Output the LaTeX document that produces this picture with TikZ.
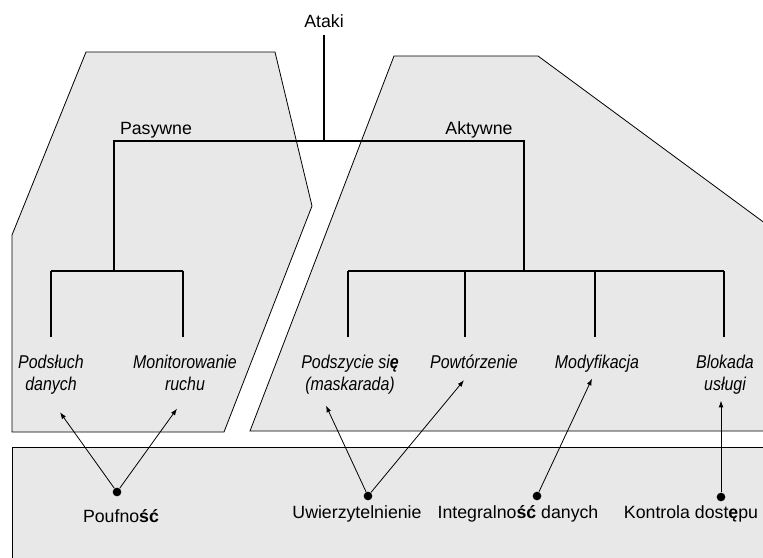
\documentclass[tikz,border=0pt]{standalone}
\usepackage{fontspec}
\setmainfont{Liberation Sans}
\newfontfamily\leaffont{Liberation Sans}[FakeStretch=0.86]
\usetikzlibrary{arrows.meta}
\definecolor{zonefill}{HTML}{E8E8E8}
\tikzset{
 zone/.style={fill=zonefill,draw=black,line width=0.6pt},
 tree/.style={draw=black,line width=1.2pt},
 head/.style={font=\fontsize{13.3}{16}\selectfont,anchor=base,inner sep=6pt},
 leaf/.style={font=\leaffont\itshape\fontsize{13.9}{16.5}\selectfont,align=center,anchor=north,inner xsep=2pt,inner ysep=13.3pt},
 prop/.style={font=\fontsize{13.3}{16}\selectfont,anchor=base,inner sep=2pt},
 dot/.style={circle,fill=black,inner sep=0pt,minimum size=6.5pt},
 arr/.style={-{Latex[length=5pt,width=3.6pt]},line width=0.6pt,draw=black}}

\begin{document}
\begin{tikzpicture}[x=0.75pt,y=-0.75pt]
\useasboundingbox (0,0) rectangle (763,557);
\clip (0,0) rectangle (763,557);

\draw[zone] (86,52) -- (275,52) -- (312,206) -- (224,432) -- (12,432) -- (12,235) -- cycle;
\draw[zone] (394,56) -- (538,56) -- (800,249) -- (800,431) -- (250,431) -- cycle;
\draw[zone] (12,447) rectangle (800,600);

\node[head] (ataki) at (324,27) {Ataki};
\node[head] (pasywne) at (156,134) {Pasywne};
\node[head] (aktywne) at (479,134) {Aktywne};

\coordinate (root) at (324,141);
\coordinate (pas) at (114,141);
\coordinate (akt) at (524,141);
\coordinate (pasfork) at (114,271);
\coordinate (aktfork) at (524,271);
\coordinate (f1) at (51,271);
\coordinate (f2) at (183,271);
\coordinate (f3) at (348,271);
\coordinate (f4) at (465,271);
\coordinate (f5) at (595,271);
\coordinate (f6) at (724,271);

\node[leaf] (podsluch) at (51,337) {Podsłuch\\danych};
\node[leaf] (monit) at (185,337) {Monitorowanie\\ruchu};
\node[leaf] (podszycie) at (350,337) {Podszycie si\textbf{ę}\\(maskarada)};
\node[leaf] (powt) at (474,337) {Powtórzenie};
\node[leaf] (modyf) at (597,337) {Modyfikacja};
\node[leaf] (blokada) at (725,337) {Blokada\\usługi};

\draw[tree] (ataki) -- (root);
\draw[tree] (pasfork) -- (pas) -- (akt) -- (aktfork);
\draw[tree] (f1) -- (f2);
\draw[tree] (f3) -- (f6);
\draw[tree] (f1) -- (f1 |- podsluch.north);
\draw[tree] (f2) -- (f2 |- monit.north);
\draw[tree] (f3) -- (f3 |- podszycie.north);
\draw[tree] (f4) -- (f4 |- powt.north);
\draw[tree] (f5) -- (f5 |- modyf.north);
\draw[tree] (f6) -- (f6 |- blokada.north);

\node[dot] (poufdot) at (117,492) {};
\node[dot] (uwdot) at (368,496) {};
\node[dot] (intdot) at (537,496) {};
\node[dot] (kondot) at (721,497) {};

\node[prop] (pouf) at (121,522) {Poufno\textbf{ść}};
\node[prop] (uwierz) at (357,518) {Uwierzytelnienie};
\node[prop] (integr) at (518,518) {Integralno\textbf{ść} danych};
\node[prop] (kontr) at (691,518) {Kontrola dost\textbf{ę}pu};

\draw[arr] (poufdot) -- ([xshift=6.75pt]podsluch.south);
\draw[arr] (poufdot) -- ([xshift=-6pt]monit.south);
\draw[arr] (uwdot) -- ([xshift=-18pt,yshift=5pt]podszycie.south);
\draw[arr] (uwdot) -- ([xshift=-7.5pt,yshift=5pt]powt.south);
\draw[arr] (intdot) -- ([xshift=-3.75pt,yshift=8.7pt]modyf.south);
\draw[arr] (kondot) -- ([xshift=-3pt,yshift=8.7pt]blokada.south);
\end{tikzpicture}
\end{document}
